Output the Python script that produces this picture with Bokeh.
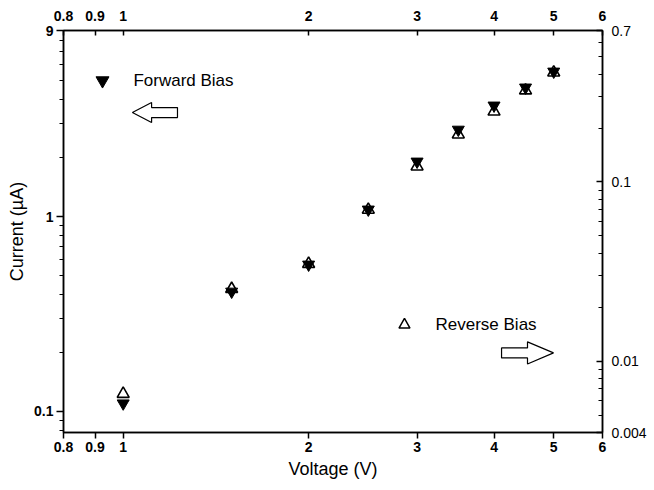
from bokeh.plotting import figure
from bokeh.models import (LogAxis, Range1d, LogScale, FixedTicker, CustomJSTickFormatter)
from bokeh.core.properties import value
from bokeh.embed import file_html
from bokeh.resources import INLINE

# ---- data ----
voltage = [1.0, 1.5, 2.0, 2.5, 3.0, 3.5, 4.0, 4.5, 5.0]
forward_current = [0.110, 0.412, 0.567, 1.086, 1.914, 2.79, 3.71, 4.59, 5.54]      # left axis (µA)
reverse_current = [0.00657, 0.0253, 0.0349, 0.070, 0.122, 0.184, 0.247, 0.324, 0.408]  # right axis

x_ticks = [0.8, 0.9, 1, 2, 3, 4, 5, 6]
left_ticks = [0.1, 1, 9]
left_minor = [0.08, 0.09, 0.2, 0.3, 0.4, 0.5, 0.6, 0.7, 0.8, 0.9, 2, 3, 4, 5, 6, 7, 8]
right_ticks = [0.004, 0.01, 0.1, 0.7]
right_minor = [0.005, 0.006, 0.007, 0.008, 0.009, 0.02, 0.03, 0.04, 0.05, 0.06,
               0.07, 0.08, 0.09, 0.2, 0.3, 0.4, 0.5, 0.6]

# annotation positions (data units)
fwd_marker = (0.9256, 4.983)
fwd_text_x = 1.039
rev_marker = (2.862, 0.01595)
rev_text_x = 3.214
left_arrow_x = [1.035, 1.112, 1.112, 1.225, 1.225, 1.112, 1.112]
left_arrow_y = [3.414, 3.842, 3.622, 3.622, 3.219, 3.219, 3.034]
right_arrow_x = [4.114, 4.533, 4.533, 4.996, 4.533, 4.533, 4.114]
right_arrow_y = [0.01186, 0.01186, 0.01282, 0.01112, 0.00965, 0.01043, 0.01043]

FONT = "Liberation Sans"

p = figure(width=654, height=490, x_axis_type="log", y_axis_type="log",
           x_range=Range1d(0.8, 6), y_range=Range1d(0.078, 9),
           output_backend="svg", toolbar_location=None,
           min_border_left=63, min_border_right=52, min_border_top=30, min_border_bottom=58)
p.extra_y_ranges = {"right": Range1d(0.004, 0.7)}
p.extra_y_scales = {"right": LogScale()}
p.xgrid.visible = False
p.ygrid.visible = False
p.outline_line_color = "black"
p.outline_line_width = 1.5
p.background_fill_color = "white"
p.border_fill_color = "white"

fmt = "return String(tick);"

# bottom axis
xb = p.xaxis[0]
xb.ticker = FixedTicker(ticks=x_ticks, minor_ticks=[])
xb.formatter = CustomJSTickFormatter(code=fmt)
xb.axis_label = "Voltage (V)"

# left axis
yl = p.yaxis[0]
yl.ticker = FixedTicker(ticks=left_ticks, minor_ticks=left_minor)
yl.formatter = CustomJSTickFormatter(code=fmt)
yl.axis_label = "Current (µA)"

# top axis
xt = LogAxis(ticker=FixedTicker(ticks=x_ticks, minor_ticks=[]),
             formatter=CustomJSTickFormatter(code=fmt))
p.add_layout(xt, "above")
# right axis
yr = LogAxis(y_range_name="right", ticker=FixedTicker(ticks=right_ticks, minor_ticks=right_minor),
             formatter=CustomJSTickFormatter(code=fmt))
p.add_layout(yr, "right")

for ax in [xb, yl, xt, yr]:
    ax.axis_line_width = 1.5
    ax.axis_line_color = "black"
    ax.major_tick_line_width = 1.5
    ax.minor_tick_line_width = 1.2
    ax.major_label_text_font = FONT
    ax.major_label_text_font_size = "14px"
    ax.major_label_text_color = "black"
    ax.axis_label_text_font = FONT
    ax.axis_label_text_font_size = "18px"
    ax.axis_label_text_font_style = "normal"
    ax.axis_label_text_color = "black"

for ax in [xb, yl, xt]:
    ax.major_label_text_font_style = "bold"
yr.major_label_text_font_style = "normal"

xb.major_tick_out = 6; xb.major_tick_in = 0
yl.major_tick_out = 7; yl.major_tick_in = 0
yl.minor_tick_out = 4; yl.minor_tick_in = 0
xt.major_tick_out = 0; xt.major_tick_in = 5
yr.major_tick_out = 0; yr.major_tick_in = 6
yr.minor_tick_out = 0; yr.minor_tick_in = 4
xb.major_label_standoff = 3
xb.axis_label_standoff = 4
yl.major_label_standoff = 3
yl.axis_label_standoff = 4
xt.major_label_standoff = 10
yr.major_label_standoff = 9

# data markers
p.scatter(voltage, reverse_current, y_range_name="right", marker="triangle", size=12,
          fill_color="white", line_color="black", line_width=1.6)
p.scatter(voltage, forward_current, marker="inverted_triangle", size=12,
          fill_color="black", line_color="black", line_width=1)

# legend / annotations
p.scatter([fwd_marker[0]], [fwd_marker[1]], marker="inverted_triangle", size=13,
          fill_color="black", line_color="black")
p.text([fwd_text_x], [fwd_marker[1]], text=["Forward Bias"], text_font=value(FONT),
       text_font_size="17px", text_baseline="middle", text_align="left", text_color="black")
p.patch(left_arrow_x, left_arrow_y, fill_color="white", line_color="black", line_width=1.2)

p.scatter([rev_marker[0]], [rev_marker[1]], y_range_name="right", marker="triangle", size=11,
          fill_color="white", line_color="black", line_width=1.5)
p.text([rev_text_x], [rev_marker[1]], y_range_name="right", text=["Reverse Bias"],
       text_font=value(FONT), text_font_size="17px", text_baseline="middle",
       text_align="left", text_color="black")
p.patch(right_arrow_x, right_arrow_y, y_range_name="right", fill_color="white",
        line_color="black", line_width=1.2)

open("out.html", "w").write(file_html(p, INLINE))
